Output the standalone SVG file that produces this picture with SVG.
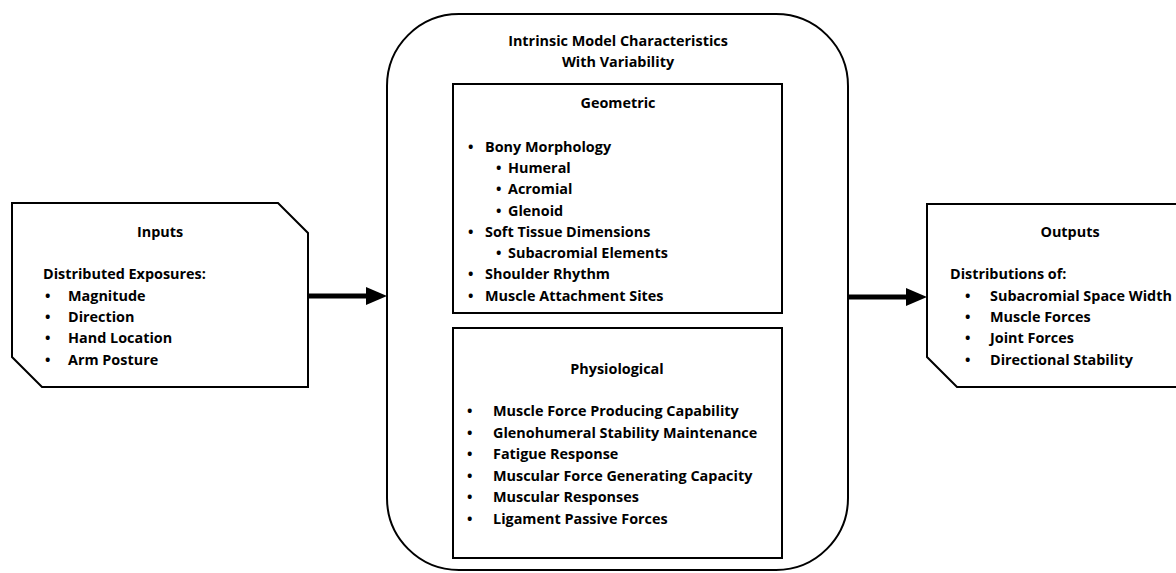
<svg xmlns="http://www.w3.org/2000/svg" width="1176" height="573" viewBox="0 0 1176 573">
<style>
.box{fill:#fff;stroke:#000;stroke-width:2}
text{font-family:"Open Sans","Noto Sans","Liberation Sans",sans-serif;font-weight:bold;font-size:14.4px;fill:#000}
.c{text-anchor:middle}
.conn{stroke:#000;stroke-width:5;fill:none}
</style>
<rect width="1176" height="573" fill="#fff"/>
<g id="inputs">
<path class="box" d="M12 203 L278 203 L308 233 L308 387 L42 387 L12 357 Z"/>
<text class="c" x="160" y="237">Inputs</text>
<text x="43" y="279">Distributed Exposures:</text>
<text x="45" y="301">•</text><text x="68" y="301">Magnitude</text>
<text x="45" y="322">•</text><text x="68" y="322">Direction</text>
<text x="45" y="343">•</text><text x="68" y="343">Hand Location</text>
<text x="45" y="365">•</text><text x="68" y="365">Arm Posture</text>
</g>
<g id="model">
<rect class="box" x="387" y="14" width="461" height="556" rx="72" ry="72"/>
<text class="c" x="618" y="46">Intrinsic Model Characteristics</text>
<text class="c" x="618" y="67">With Variability</text>
</g>
<g id="geometric">
<rect class="box" x="453" y="84" width="329" height="229"/>
<text class="c" x="618" y="108">Geometric</text>
<text x="468" y="152">•</text><text x="485" y="152">Bony Morphology</text>
<text x="496" y="173">•</text><text x="508" y="173">Humeral</text>
<text x="496" y="194">•</text><text x="508" y="194">Acromial</text>
<text x="496" y="216">•</text><text x="508" y="216">Glenoid</text>
<text x="468" y="237">•</text><text x="485" y="237">Soft Tissue Dimensions</text>
<text x="496" y="258">•</text><text x="508" y="258">Subacromial Elements</text>
<text x="468" y="279">•</text><text x="485" y="279">Shoulder Rhythm</text>
<text x="468" y="301">•</text><text x="485" y="301">Muscle Attachment Sites</text>
</g>
<g id="physiological">
<rect class="box" x="453" y="328" width="329" height="230"/>
<text class="c" x="617" y="374">Physiological</text>
<text x="467" y="416">•</text><text x="493" y="416">Muscle Force Producing Capability</text>
<text x="467" y="437.5">•</text><text x="493" y="437.5">Glenohumeral Stability Maintenance</text>
<text x="467" y="459">•</text><text x="493" y="459">Fatigue Response</text>
<text x="467" y="480.5">•</text><text x="493" y="480.5">Muscular Force Generating Capacity</text>
<text x="467" y="502">•</text><text x="493" y="502">Muscular Responses</text>
<text x="467" y="523.5">•</text><text x="493" y="523.5">Ligament Passive Forces</text>
</g>
<g id="outputs">
<path class="box" d="M1190 204 L927 204 L927 357 L957 387 L1190 387"/>
<text class="c" x="1070" y="237">Outputs</text>
<text x="950" y="279">Distributions of:</text>
<text x="965" y="301">•</text><text x="990" y="301">Subacromial Space Width</text>
<text x="965" y="322">•</text><text x="990" y="322">Muscle Forces</text>
<text x="965" y="343">•</text><text x="990" y="343">Joint Forces</text>
<text x="965" y="365">•</text><text x="990" y="365">Directional Stability</text>
</g>
<g id="connectors">
<line class="conn" x1="309" y1="296" x2="368" y2="296"/>
<polygon points="366,287 387,296 366,305" fill="#000"/>
<line class="conn" x1="849" y1="297" x2="908" y2="297"/>
<polygon points="906,288 927,297 906,306" fill="#000"/>
</g>
</svg>
